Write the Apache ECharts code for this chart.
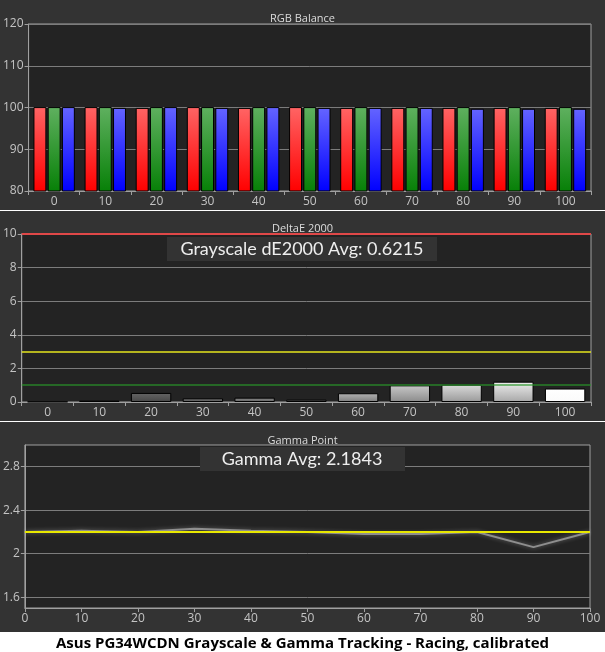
<!DOCTYPE html>
<html>
<head>
<meta charset="utf-8">
<script src="https://cdn.jsdelivr.net/npm/echarts@6/dist/echarts.min.js"></script>
<style>
  html, body { margin: 0; padding: 0; background: #fff; }
  #chart { width: 605px; height: 652px; }
</style>
</head>
<body>
<div id="chart"></div>
<script>
// levels (% stimulus)
var levels = ['0', '10', '20', '30', '40', '50', '60', '70', '80', '90', '100'];

// RGB balance
var redVals   = [100.1, 100.1, 99.9, 100.1, 99.9, 100.1, 99.9, 99.9, 99.9, 99.9, 99.9];
var greenVals = [100.1, 100.1, 100.1, 100.1, 100.1, 100.1, 100.1, 100.1, 100.1, 100.1, 100.1];
var blueVals  = [100.1, 99.9, 100.1, 99.9, 100.1, 99.9, 99.9, 99.9, 99.7, 99.7, 99.7];

// DeltaE 2000
var deltaE = [0.02, 0.08, 0.54, 0.22, 0.26, 0.14, 0.52, 0.99, 1.03, 1.21, 0.8];
var deltaLimits = [10, 3, 1];
var deltaAvgText = 'Grayscale dE2000 Avg: 0.6215';

// Gamma
var gammaX = [0, 10, 20, 30, 40, 50, 60, 70, 80, 90, 100];
var gammaVals = [2.2, 2.21, 2.2, 2.23, 2.21, 2.2, 2.18, 2.18, 2.2, 2.06, 2.2];
var gammaTarget = 2.2;
var gammaTicks = [1.6, 2, 2.4, 2.8];
var gammaAvgText = 'Gamma Avg: 2.1843';

var caption = 'Asus PG34WCDN Grayscale & Gamma Tracking - Racing, calibrated';

var labelColor = '#c4c4c4';
var lineGray = '#a0a0a0';
var splitGray = '#7c7c7c';
var font = 'Open Sans';

function grad(top, bottom) {
  return new echarts.graphic.LinearGradient(0, 0, 0, 1, [
    { offset: 0, color: top }, { offset: 1, color: bottom }
  ]);
}

// bar shade follows the stimulus level
function grayFor(i) {
  var lv = parseInt(levels[i], 10);
  var t = Math.min(255, Math.round(62 + lv * 1.95));
  var b = lv >= 100 ? 250 : Math.round(t * 0.7);
  return grad('rgb(' + t + ',' + t + ',' + t + ')', 'rgb(' + b + ',' + b + ',' + b + ')');
}

var chart = echarts.init(document.getElementById('chart'));

var axisBase = {
  axisLine: { show: true, lineStyle: { color: lineGray, width: 1 } },
  axisTick: { show: true, length: 4, lineStyle: { color: lineGray } },
  axisLabel: { color: labelColor, fontSize: 12, fontFamily: font, margin: 5 }
};

function mk(extra) {
  return echarts.util.merge(echarts.util.clone(axisBase), extra, true);
}

var option = {
  backgroundColor: '#333333',
  animation: false,
  title: [
    { text: 'RGB Balance', left: 'center', top: 8, textStyle: { color: '#dcdcdc', fontSize: 11, fontWeight: 'normal', fontFamily: font } },
    { text: 'DeltaE 2000', left: 'center', top: 218, textStyle: { color: '#dcdcdc', fontSize: 11, fontWeight: 'normal', fontFamily: font } },
    { text: 'Gamma Point', left: 'center', top: 430, textStyle: { color: '#dcdcdc', fontSize: 11, fontWeight: 'normal', fontFamily: font } },
    { text: caption, left: 'center', top: 631, textStyle: { color: '#000', fontSize: 15, fontWeight: 'bold', fontFamily: font } }
  ],
  grid: [
    { left: 26, right: 14, top: 24, height: 167, show: true, backgroundColor: '#232323', borderColor: lineGray, borderWidth: 1 },
    { left: 20, right: 14, top: 234, height: 168, show: true, backgroundColor: '#232323', borderColor: lineGray, borderWidth: 1 },
    { left: 23, right: 15, top: 445, height: 163, show: true, backgroundColor: '#232323', borderColor: lineGray, borderWidth: 1 }
  ],
  xAxis: [
    mk({ type: 'category', gridIndex: 0, data: levels, axisTick: { alignWithLabel: false } }),
    mk({ type: 'category', gridIndex: 1, data: levels, axisTick: { alignWithLabel: false } }),
    mk({ type: 'value', gridIndex: 2, min: 0, max: 100, interval: 10, splitLine: { show: false } })
  ],
  yAxis: [
    mk({ type: 'value', gridIndex: 0, min: 80, max: 120, interval: 10, splitLine: { lineStyle: { color: splitGray } } }),
    mk({ type: 'value', gridIndex: 1, min: 0, max: 10, interval: 2, splitLine: { lineStyle: { color: splitGray } } }),
    mk({ type: 'value', gridIndex: 2, min: 1.5, max: 3.0,
      axisTick: { customValues: gammaTicks },
      axisLabel: { customValues: gammaTicks },
      splitLine: { lineStyle: { color: splitGray } } })
  ],
  series: [
    {
      name: 'Red', type: 'bar', xAxisIndex: 0, yAxisIndex: 0, data: redVals,
      barGap: '10%', barCategoryGap: '19%',
      itemStyle: { color: grad('#ff6464', '#ff0000'), borderColor: '#000', borderWidth: 1 }
    },
    {
      name: 'Green', type: 'bar', xAxisIndex: 0, yAxisIndex: 0, data: greenVals,
      itemStyle: { color: grad('#5fb05f', '#078007'), borderColor: '#000', borderWidth: 1 }
    },
    {
      name: 'Blue', type: 'bar', xAxisIndex: 0, yAxisIndex: 0, data: blueVals,
      itemStyle: { color: grad('#6464ff', '#0000ff'), borderColor: '#000', borderWidth: 1 }
    },
    {
      name: 'dE2000', type: 'bar', xAxisIndex: 1, yAxisIndex: 1, data: deltaE,
      barCategoryGap: '22%',
      itemStyle: {
        color: function (p) { return grayFor(p.dataIndex); },
        borderColor: '#000', borderWidth: 1
      },
      markLine: {
        silent: true, symbol: 'none', label: { show: false },
        data: [
          { yAxis: deltaLimits[0], lineStyle: { color: '#e04848', width: 2, type: 'solid' } },
          { yAxis: deltaLimits[1], lineStyle: { color: '#e6e61e', width: 1.5, type: 'solid' } },
          { yAxis: deltaLimits[2], lineStyle: { color: 'rgba(40,150,40,0.6)', width: 2, type: 'solid' } }
        ]
      }
    },
    {
      name: 'Gamma', type: 'line', xAxisIndex: 2, yAxisIndex: 2,
      data: gammaX.map(function (x, i) { return [x, gammaVals[i]]; }),
      showSymbol: false, smooth: false,
      lineStyle: { color: '#8e8e8e', width: 2, shadowBlur: 4, shadowColor: 'rgba(255,255,255,0.35)' },
      markLine: {
        silent: true, symbol: 'none', label: { show: false },
        data: [{ yAxis: gammaTarget, lineStyle: { color: '#e8e800', width: 2, type: 'solid' } }]
      }
    }
  ],
  graphic: [
    { type: 'rect', shape: { x: 0, y: 210, width: 605, height: 1 }, style: { fill: '#ffffff' }, z: 100 },
    { type: 'rect', shape: { x: 0, y: 421, width: 605, height: 1 }, style: { fill: '#ffffff' }, z: 100 },
    { type: 'rect', shape: { x: 0, y: 632, width: 605, height: 20 }, style: { fill: '#ffffff' }, z: -1 },
    { type: 'rect', shape: { x: 167, y: 237, width: 270, height: 24 }, style: { fill: '#333333' }, z: 100 },
    { type: 'text', x: 302, y: 249, style: { text: deltaAvgText, fill: '#eeeeee', font: '18px Lato', align: 'center', verticalAlign: 'middle' }, z: 101 },
    { type: 'rect', shape: { x: 200, y: 447, width: 205, height: 24 }, style: { fill: '#333333' }, z: 100 },
    { type: 'text', x: 302, y: 459, style: { text: gammaAvgText, fill: '#eeeeee', font: '18px Lato', align: 'center', verticalAlign: 'middle' }, z: 101 }
  ]
};

chart.setOption(option);
window.addEventListener('resize', function () { chart.resize(); });
</script>
</body>
</html>
